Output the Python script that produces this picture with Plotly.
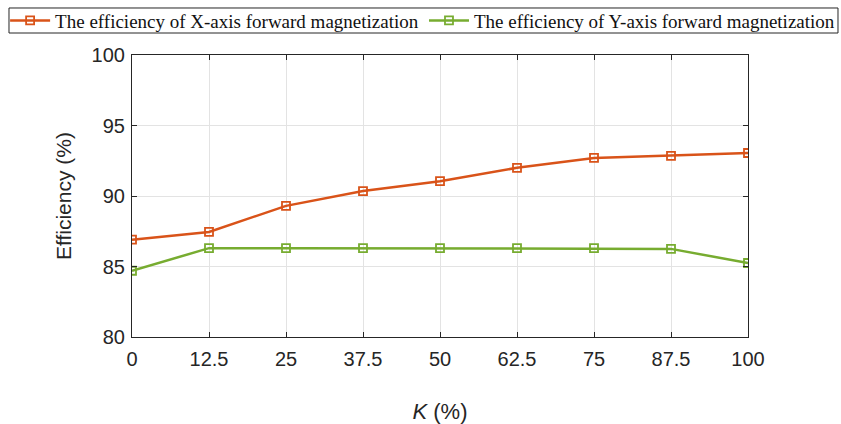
import plotly.graph_objects as go

k_values = [0, 12.5, 25, 37.5, 50, 62.5, 75, 87.5, 100]
eff_x = [86.9, 87.45, 89.3, 90.35, 91.05, 92.0, 92.7, 92.85, 93.05]
eff_y = [84.7, 86.3, 86.3, 86.3, 86.3, 86.3, 86.3, 86.25, 85.25]
x_ticks = [0, 12.5, 25, 37.5, 50, 62.5, 75, 87.5, 100]
x_tick_text = ["0", "12.5", "25", "37.5", "50", "62.5", "75", "87.5", "100"]
y_ticks = [80, 85, 90, 95, 100]

name_x = "The efficiency of X-axis forward magnetization"
name_y = "The efficiency of Y-axis forward magnetization"

fig = go.Figure()
fig.add_trace(go.Scatter(
    x=k_values, y=eff_x, name=name_x, mode="lines+markers", legend="legend",
    line=dict(color="#D95319", width=2.5),
    marker=dict(symbol="square-open", size=8, color="#D95319", line=dict(width=1.8)),
))
fig.add_trace(go.Scatter(
    x=k_values, y=eff_y, name=name_y, mode="lines+markers", legend="legend2",
    line=dict(color="#77AC30", width=2.5),
    marker=dict(symbol="square-open", size=8, color="#77AC30", line=dict(width=1.8)),
))

axis_common = dict(
    showline=True, linecolor="#262626", linewidth=1.2, mirror="ticks",
    ticks="inside", ticklen=5, tickcolor="#262626",
    showgrid=True, gridcolor="#E3E3E3", gridwidth=1, zeroline=False,
    tickfont=dict(family="Liberation Sans, Arial", size=20, color="#262626"),
)

fig.update_xaxes(
    range=[0, 100], tickvals=x_ticks, ticktext=x_tick_text, ticklabelstandoff=4,
    title=dict(text="<i>K</i> (%)", font=dict(family="Liberation Sans, Arial", size=22, color="#262626"), standoff=36),
    **axis_common,
)
fig.update_yaxes(
    range=[80, 100], tickvals=y_ticks, ticklabelstandoff=2,
    title=dict(text="Efficiency (%)", font=dict(family="Liberation Sans, Arial", size=21, color="#262626"), standoff=14),
    **axis_common,
)

legend_font = dict(family="Liberation Serif, Times New Roman", size=19, color="#111111")

fig.update_layout(
    width=841, height=424,
    margin=dict(l=132, r=93, t=55, b=87, autoexpand=False),
    plot_bgcolor="white", paper_bgcolor="white",
    showlegend=True,
    legend=dict(
        orientation="h", x=-0.206, xanchor="left", y=1.122, yanchor="middle",
        bgcolor="rgba(0,0,0,0)", borderwidth=0, font=legend_font, itemwidth=40,
    ),
    legend2=dict(
        orientation="h", x=0.474, xanchor="left", y=1.122, yanchor="middle",
        bgcolor="rgba(0,0,0,0)", borderwidth=0, font=legend_font, itemwidth=40,
    ),
    shapes=[dict(
        type="rect", xref="paper", yref="paper",
        x0=-0.1997, x1=1.1461, y0=1.078, y1=1.1667,
        line=dict(color="#262626", width=1), fillcolor="rgba(0,0,0,0)", layer="above",
    )],
)

fig.write_html("out.html")
